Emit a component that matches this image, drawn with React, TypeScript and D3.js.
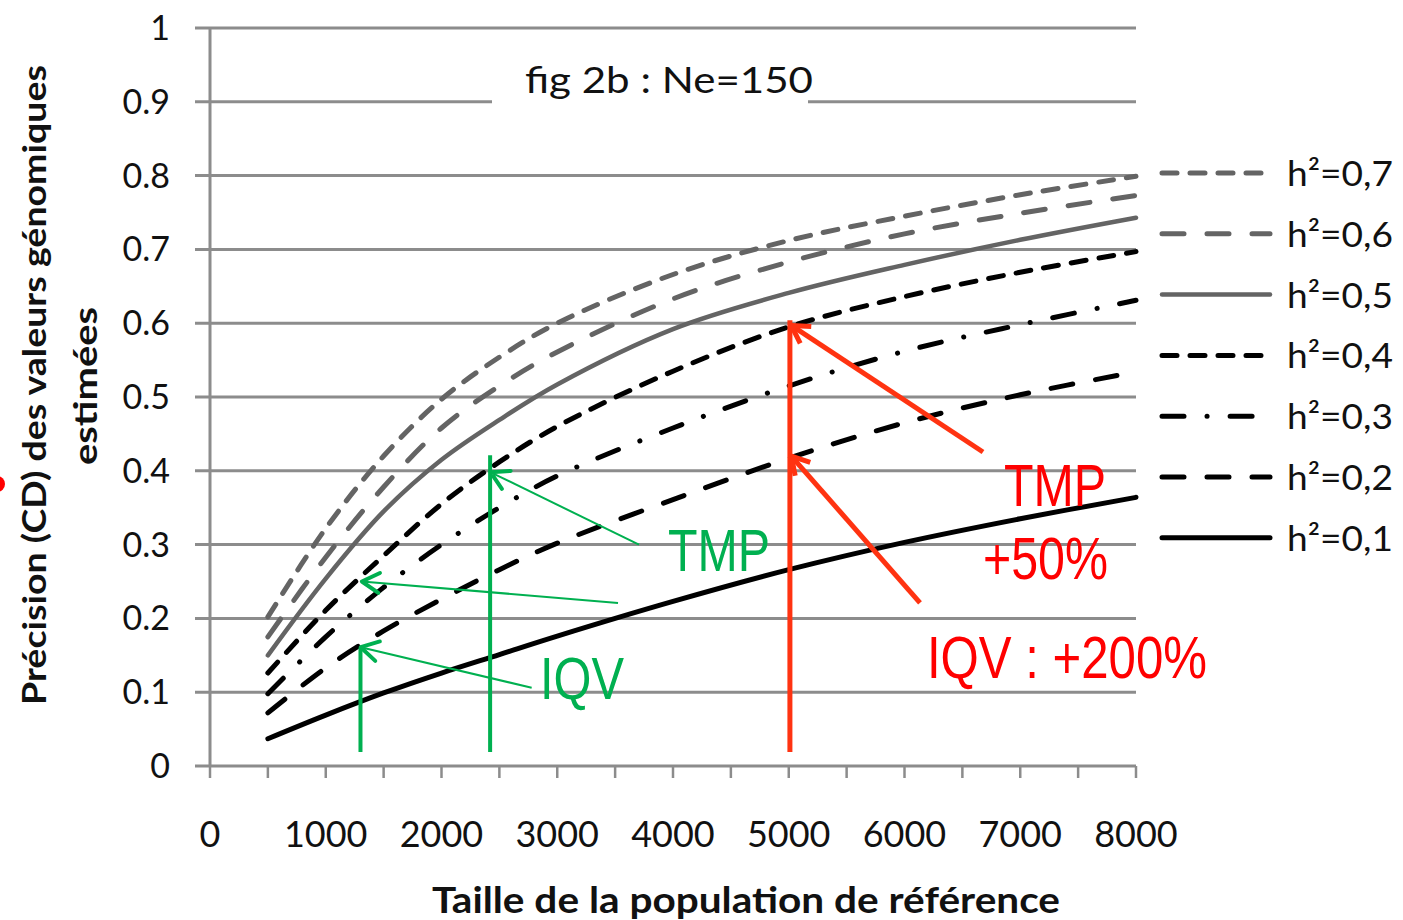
import React from 'react';
import * as d3 from 'd3';

// Reference population size (x) and accuracy (CD) per heritability level
const sizes = [500, 1000, 1500, 2000, 2500, 3000, 4000, 5000, 6000, 7000, 8000];
const h2_07 = [0.202, 0.322, 0.42, 0.497, 0.554, 0.6, 0.666, 0.712, 0.745, 0.774, 0.799];
const h2_06 = [0.175, 0.283, 0.378, 0.458, 0.515, 0.561, 0.633, 0.683, 0.721, 0.749, 0.773];
const h2_05 = [0.15, 0.254, 0.345, 0.415, 0.469, 0.517, 0.592, 0.641, 0.679, 0.713, 0.743];
const h2_04 = [0.126, 0.211, 0.285, 0.355, 0.412, 0.46, 0.535, 0.595, 0.636, 0.669, 0.697];
const h2_03 = [0.098, 0.175, 0.242, 0.3, 0.35, 0.393, 0.458, 0.515, 0.562, 0.598, 0.631];
const h2_02 = [0.072, 0.133, 0.183, 0.226, 0.266, 0.302, 0.361, 0.417, 0.465, 0.503, 0.534];
const h2_01 = [0.037, 0.069, 0.099, 0.126, 0.151, 0.176, 0.223, 0.266, 0.303, 0.335, 0.364];

const seriesLabels = ['h²=0,7', 'h²=0,6', 'h²=0,5', 'h²=0,4', 'h²=0,3', 'h²=0,2', 'h²=0,1'];
const seriesValues = [h2_07, h2_06, h2_05, h2_04, h2_03, h2_02, h2_01];

const yTicks = [0, 0.1, 0.2, 0.3, 0.4, 0.5, 0.6, 0.7, 0.8, 0.9, 1];
const yTickLabels = ['0', '0.1', '0.2', '0.3', '0.4', '0.5', '0.6', '0.7', '0.8', '0.9', '1'];
const xTicks = [0, 1000, 2000, 3000, 4000, 5000, 6000, 7000, 8000];
const xTickLabels = ['0', '1000', '2000', '3000', '4000', '5000', '6000', '7000', '8000'];

const chartTitle = 'fig 2b  : Ne=150';
const xTitle = 'Taille de la population  de référence';
const yTitle1 = 'Précision (CD) des valeurs génomiques';
const yTitle2 = 'estimées';

// Annotation stems [size, bottom, top] and arrows [tailSize, tailValue, tipSize, tipValue]
const greenStems = [[1300, 0.019, 0.16], [2420, 0.019, 0.421]];
const redStems = [[5010, 0.019, 0.604]];
const greenArrows = [[2779, 0.106, 1302, 0.161], [3525, 0.221, 1312, 0.25], [3706, 0.3, 2425, 0.398]];
const redArrows = [[6678, 0.4255, 5022, 0.597], [6134, 0.221, 5022, 0.42]];
const greenLabels = [
  { text: 'IQV', n: 2851, v: 0.091, w: 84 },
  { text: 'TMP', n: 3957, v: 0.264, w: 102 },
];
const redLabels = [
  { text: 'TMP', n: 6860, v: 0.352, w: 102 },
  { text: '+50%', n: 6678, v: 0.253, w: 125 },
  { text: 'IQV : +200%', n: 6194, v: 0.119, w: 280 },
];

const GRAY = '#646464';
const GRID = '#8c8c8c';
const GREEN = '#00b050';
const RED_LINE = '#ff3311';
const RED_TEXT = '#ff0000';

const lineStyles = [
  { color: GRAY, dash: '15 13', width: 5 },
  { color: GRAY, dash: '22 23', width: 5 },
  { color: GRAY, dash: null, width: 4.5 },
  { color: '#000', dash: '15 13', width: 5 },
  { color: '#000', dash: '22 23 0.1 23', width: 5 },
  { color: '#000', dash: '22 23', width: 5 },
  { color: '#000', dash: null, width: 5 },
];

const x = d3.scaleLinear().domain([0, 8000]).range([210, 1136]);
const y = d3.scaleLinear().domain([0, 1]).range([766, 28]);

const line = d3
  .line<[number, number]>()
  .x((d) => x(d[0]))
  .y((d) => y(d[1]))
  .curve(d3.curveCatmullRom.alpha(0.5));

function arrowHead(x1: number, y1: number, x2: number, y2: number, len: number) {
  const a = Math.atan2(y1 - y2, x1 - x2);
  const s = Math.PI / 6;
  const p1 = [x2 + len * Math.cos(a + s), y2 + len * Math.sin(a + s)];
  const p2 = [x2 + len * Math.cos(a - s), y2 + len * Math.sin(a - s)];
  return `M${p1[0]},${p1[1]}L${x2},${y2}L${p2[0]},${p2[1]}`;
}

const minorTicks = d3.range(0, 8001, 500);

export default function App() {
  const font = 'Lato, "Open Sans", sans-serif';
  const annFont = '"Liberation Sans", Arial, sans-serif';
  return (
    <svg
      width={1403}
      height={920}
      style={{ position: 'absolute', left: 0, top: 0, display: 'block', background: '#fff' }}
    >
      {/* gridlines and y ticks */}
      {yTicks.map((t) => (
        <line key={'g' + t} x1={195} x2={x(8000)} y1={y(t)} y2={y(t)} stroke={GRID} strokeWidth={3} />
      ))}
      {/* y axis */}
      <line x1={x(0)} x2={x(0)} y1={y(1)} y2={y(0)} stroke={GRID} strokeWidth={3} />
      {/* x axis ticks */}
      {minorTicks.map((t) => (
        <line key={'xt' + t} x1={x(t)} x2={x(t)} y1={y(0)} y2={y(0) + 12} stroke={GRID} strokeWidth={2.5} />
      ))}

      {/* title with white box */}
      <rect x={492} y={60} width={316} height={58} fill="#fff" />
      <text x={525} y={93} fontFamily={font} fontSize={37} fill="#111" textLength={288} lengthAdjust="spacingAndGlyphs">
        {chartTitle}
      </text>

      {/* y tick labels */}
      {yTicks.map((t, i) => (
        <text key={'yl' + t} x={170} y={y(t) + 12} textAnchor="end" fontFamily={font} fontSize={34} fill="#111">
          {yTickLabels[i]}
        </text>
      ))}
      {/* x tick labels */}
      {xTicks.map((t, i) => (
        <text key={'xl' + t} x={x(t)} y={847} textAnchor="middle" fontFamily={font} fontSize={36} fill="#111">
          {xTickLabels[i]}
        </text>
      ))}

      {/* axis titles */}
      <text x={432} y={913} fontFamily={font} fontWeight={700} fontSize={36} fill="#111" textLength={628} lengthAdjust="spacingAndGlyphs">
        {xTitle}
      </text>
      <text
        transform="translate(46,385) rotate(-90)"
        textAnchor="middle"
        fontFamily={font}
        fontWeight={700}
        fontSize={33}
        fill="#111"
        textLength={640}
        lengthAdjust="spacingAndGlyphs"
      >
        {yTitle1}
      </text>
      <text
        transform="translate(97,386) rotate(-90)"
        textAnchor="middle"
        fontFamily={font}
        fontWeight={700}
        fontSize={33}
        fill="#111"
        textLength={158}
        lengthAdjust="spacingAndGlyphs"
      >
        {yTitle2}
      </text>
      <circle cx={-3} cy={484} r={8} fill="#ff0000" />

      {/* curves */}
      {seriesValues.map((vals, i) => {
        const st = lineStyles[i];
        const pts = sizes.map((n, j) => [n, vals[j]] as [number, number]);
        return (
          <path
            key={'c' + i}
            d={line(pts) || ''}
            fill="none"
            stroke={st.color}
            strokeWidth={st.width}
            strokeDasharray={st.dash || undefined}
            strokeLinecap="round"
          />
        );
      })}

      {/* legend */}
      {seriesLabels.map((lab, i) => {
        const st = lineStyles[i];
        const ly = 173 + i * 60.8;
        return (
          <g key={'lg' + i}>
            <line
              x1={1162}
              x2={1270}
              y1={ly}
              y2={ly}
              stroke={st.color}
              strokeWidth={st.width}
              strokeDasharray={st.dash || undefined}
              strokeLinecap="round"
            />
            <text x={1287} y={ly + 13} fontFamily={font} fontSize={34} fill="#111" textLength={106} lengthAdjust="spacingAndGlyphs">
              {lab}
            </text>
          </g>
        );
      })}

      {/* green annotations */}
      {greenStems.map(([n, v0, v1], i) => (
        <line key={'gs' + i} x1={x(n)} x2={x(n)} y1={y(v0)} y2={y(v1)} stroke={GREEN} strokeWidth={4} />
      ))}
      {greenArrows.map(([n1, v1, n2, v2], i) => (
        <g key={'ga' + i}>
          <line x1={x(n1)} y1={y(v1)} x2={x(n2)} y2={y(v2)} stroke={GREEN} strokeWidth={2} />
          <path d={arrowHead(x(n1), y(v1), x(n2), y(v2), 20)} fill="none" stroke={GREEN} strokeWidth={4} strokeLinecap="round" strokeLinejoin="round" />
        </g>
      ))}
      {greenLabels.map((l, i) => (
        <text key={'gl' + i} x={x(l.n)} y={y(l.v)} fontFamily={annFont} fontSize={60} fill={GREEN} textLength={l.w} lengthAdjust="spacingAndGlyphs">
          {l.text}
        </text>
      ))}

      {/* red annotations */}
      {redStems.map(([n, v0, v1], i) => (
        <line key={'rs' + i} x1={x(n)} x2={x(n)} y1={y(v0)} y2={y(v1)} stroke={RED_LINE} strokeWidth={5} />
      ))}
      {redArrows.map(([n1, v1, n2, v2], i) => (
        <g key={'ra' + i}>
          <line x1={x(n1)} y1={y(v1)} x2={x(n2)} y2={y(v2)} stroke={RED_LINE} strokeWidth={5} />
          <path d={arrowHead(x(n1), y(v1), x(n2), y(v2), 20)} fill="none" stroke={RED_LINE} strokeWidth={5} strokeLinejoin="round" />
        </g>
      ))}
      {redLabels.map((l, i) => (
        <text key={'rl' + i} x={x(l.n)} y={y(l.v)} fontFamily={annFont} fontSize={60} fill={RED_TEXT} textLength={l.w} lengthAdjust="spacingAndGlyphs">
          {l.text}
        </text>
      ))}
    </svg>
  );
}
